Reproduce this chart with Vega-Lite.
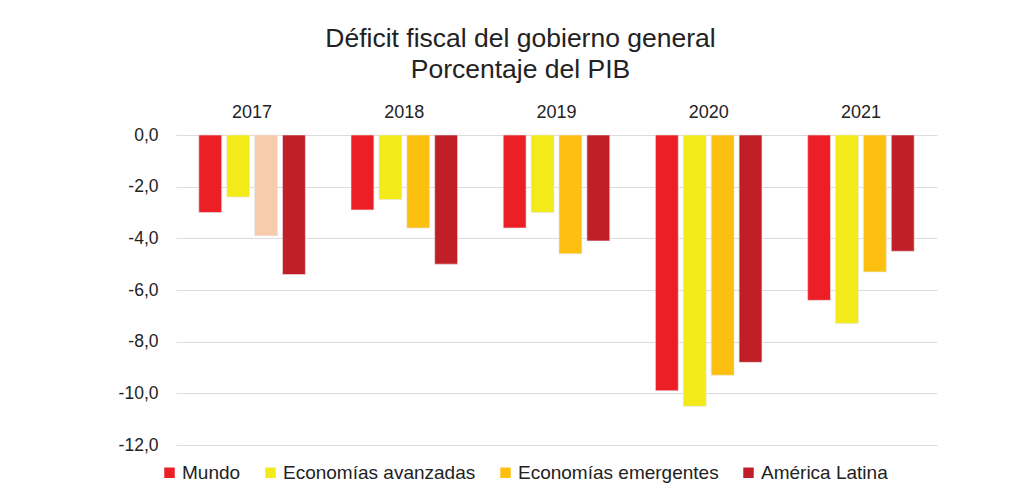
{
  "$schema": "https://vega.github.io/schema/vega-lite/v6.json",
  "autosize": {"type": "none"},
  "width": 761,
  "height": 310,
  "padding": {"left": 176, "top": 135, "right": 84, "bottom": 55},
  "background": "white",
  "title": {
    "text": ["Déficit fiscal del gobierno general", "Porcentaje del PIB"],
    "font": "Liberation Sans",
    "fontSize": 26.5,
    "fontWeight": "normal",
    "color": "#222222",
    "lineHeight": 31,
    "anchor": "middle",
    "dx": -36,
    "offset": 20
  },
  "data": {
    "values": [
      {"year": "2017", "serie": "Mundo", "value": -3.0},
      {"year": "2017", "serie": "Economías avanzadas", "value": -2.4},
      {"year": "2017", "serie": "Economías emergentes", "value": -3.9},
      {"year": "2017", "serie": "América Latina", "value": -5.4},
      {"year": "2018", "serie": "Mundo", "value": -2.9},
      {"year": "2018", "serie": "Economías avanzadas", "value": -2.5},
      {"year": "2018", "serie": "Economías emergentes", "value": -3.6},
      {"year": "2018", "serie": "América Latina", "value": -5.0},
      {"year": "2019", "serie": "Mundo", "value": -3.6},
      {"year": "2019", "serie": "Economías avanzadas", "value": -3.0},
      {"year": "2019", "serie": "Economías emergentes", "value": -4.6},
      {"year": "2019", "serie": "América Latina", "value": -4.1},
      {"year": "2020", "serie": "Mundo", "value": -9.9},
      {"year": "2020", "serie": "Economías avanzadas", "value": -10.5},
      {"year": "2020", "serie": "Economías emergentes", "value": -9.3},
      {"year": "2020", "serie": "América Latina", "value": -8.8},
      {"year": "2021", "serie": "Mundo", "value": -6.4},
      {"year": "2021", "serie": "Economías avanzadas", "value": -7.3},
      {"year": "2021", "serie": "Economías emergentes", "value": -5.3},
      {"year": "2021", "serie": "América Latina", "value": -4.5}
    ]
  },
  "mark": {"type": "bar", "stroke": "#e6e6e6", "strokeWidth": 0.6},
  "encoding": {
    "x": {
      "field": "year",
      "type": "nominal",
      "sort": null,
      "scale": {"paddingInner": 0.3, "paddingOuter": 0.15},
      "axis": {
        "orient": "top",
        "title": null,
        "domain": false,
        "ticks": false,
        "labelAngle": 0,
        "labelFont": "Liberation Sans",
        "labelFontSize": 18,
        "labelColor": "#222222",
        "labelPadding": 14
      }
    },
    "xOffset": {
      "field": "serie",
      "type": "nominal",
      "sort": ["Mundo", "Economías avanzadas", "Economías emergentes", "América Latina"],
      "scale": {"paddingInner": 0.18}
    },
    "y": {
      "field": "value",
      "type": "quantitative",
      "scale": {"domain": [-12, 0], "nice": false},
      "axis": {
        "title": null,
        "domain": false,
        "ticks": false,
        "values": [0, -2, -4, -6, -8, -10, -12],
        "labelExpr": "replace(replace(format(datum.value, '.1f'), '.', ','), '\u2212', '-')",
        "labelFont": "Liberation Sans",
        "labelFontSize": 17.5,
        "labelColor": "#222222",
        "labelPadding": 18,
        "grid": true,
        "gridColor": "#dcdcdc",
        "gridWidth": 1
      }
    },
    "color": {
      "condition": {
        "test": "datum.year === '2017' && datum.serie === 'Economías emergentes'",
        "value": "#F8CBAD"
      },
      "field": "serie",
      "type": "nominal",
      "sort": ["Mundo", "Economías avanzadas", "Economías emergentes", "América Latina"],
      "scale": {
        "domain": ["Mundo", "Economías avanzadas", "Economías emergentes", "América Latina"],
        "range": ["#ED1F26", "#F3EB19", "#FDC010", "#C01F28"]
      },
      "legend": {
        "title": null,
        "orient": "none",
        "direction": "horizontal",
        "legendX": -16,
        "legendY": 328,
        "symbolType": "square",
        "symbolSize": 110,
        "symbolStrokeWidth": 0,
        "labelFont": "Liberation Sans",
        "labelFontSize": 19,
        "labelLimit": 0,
        "labelColor": "#222222",
        "labelOffset": 3,
        "columnPadding": 20
      }
    }
  },
  "config": {
    "view": {"stroke": null}
  }
}
